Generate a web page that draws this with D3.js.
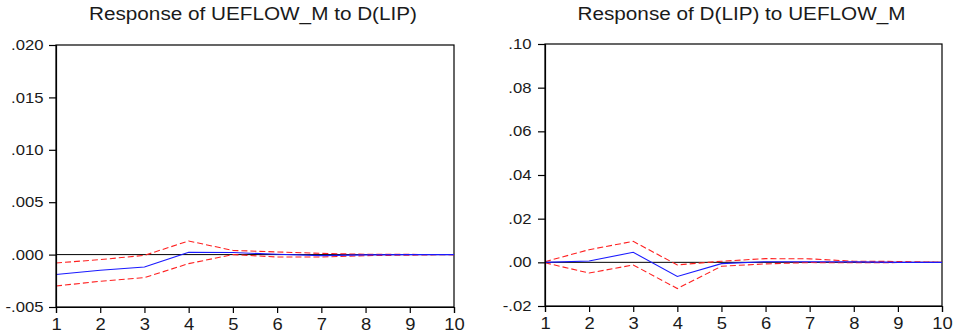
<!DOCTYPE html>
<html>
<head>
<meta charset="utf-8">
<script src="https://cdn.jsdelivr.net/npm/d3@7"></script>
<style>
  html, body { margin: 0; padding: 0; background: #fff; }
  svg { display: block; }
  text { font-family: "Liberation Sans", Arial, sans-serif; fill: #1a1a1a; }
</style>
</head>
<body>
<svg id="chart" width="957" height="336"></svg>
<script>
// Impulse response periods
const periods = [1, 2, 3, 4, 5, 6, 7, 8, 9, 10];
const xTickLabels = ["1", "2", "3", "4", "5", "6", "7", "8", "9", "10"];

// Response of UEFLOW_M to D(LIP): point estimate and +/- 2 S.E. bands
const ueflowResp  = [-0.0019, -0.0015, -0.00118, 0.00022, 0.0002, 0.00003, -0.0001, -0.00003, 0.0, 0.0];
const ueflowUpper = [-0.0008, -0.00048, -0.00007, 0.0013, 0.0004, 0.00025, 0.00012, 0.00003, 0.00002, 0.0];
const ueflowLower = [-0.003, -0.00254, -0.0022, -0.00086, 0.0, -0.00023, -0.00023, -0.0001, -0.00005, 0.0];
const ueflowTicks = [-0.005, 0.0, 0.005, 0.010, 0.015, 0.020];
const ueflowTickLabels = ["-.005", ".000", ".005", ".010", ".015", ".020"];

// Response of D(LIP) to UEFLOW_M
const lipResp  = [0.0, 0.0006, 0.0046, -0.0065, -0.0006, 0.0003, 0.0003, 0.0002, 0.0, 0.0];
const lipUpper = [0.0003, 0.0058, 0.0096, -0.0012, 0.0005, 0.0017, 0.0016, 0.0005, 0.0004, 0.0];
const lipLower = [-0.0002, -0.0049, -0.0012, -0.012, -0.0018, -0.0007, -0.0001, -0.0002, -0.0001, 0.0];
const lipTicks = [-0.02, 0.0, 0.02, 0.04, 0.06, 0.08, 0.10];
const lipTickLabels = ["-.02", ".00", ".02", ".04", ".06", ".08", ".10"];

const svg = d3.select("#chart");
const XS = 1.15; // horizontal text stretch

function drawPanel(p) {
  const g = svg.append("g");
  const x = d3.scaleLinear().domain([1, 10]).range([p.left, p.right]);
  const y = d3.scaleLinear().domain(p.domain).range([p.bottom, p.top]);

  // Title
  g.append("text")
    .attr("x", (p.left + p.right) / 2 - 2)
    .attr("y", 20)
    .attr("text-anchor", "middle")
    .attr("font-size", 17.5)
    .attr("textLength", 328)
    .attr("lengthAdjust", "spacingAndGlyphs")
    .text(p.title);

  // Frame (top and right edges)
  g.append("rect")
    .attr("x", p.left).attr("y", p.top)
    .attr("width", p.right - p.left).attr("height", p.bottom - p.top)
    .attr("fill", "none").attr("stroke", "#000").attr("stroke-width", 1.2);

  // Zero line
  g.append("line")
    .attr("x1", p.left).attr("x2", p.right)
    .attr("y1", y(0)).attr("y2", y(0))
    .attr("stroke", "#000").attr("stroke-width", 1);

  const line = d3.line().x((d, i) => x(periods[i])).y(d => y(d));

  g.append("path").datum(p.upper).attr("d", line)
    .attr("fill", "none").attr("stroke", "#ff2020").attr("stroke-width", 1.1)
    .attr("stroke-dasharray", "6,3");
  g.append("path").datum(p.lower).attr("d", line)
    .attr("fill", "none").attr("stroke", "#ff2020").attr("stroke-width", 1.1)
    .attr("stroke-dasharray", "6,3");
  g.append("path").datum(p.resp).attr("d", line)
    .attr("fill", "none").attr("stroke", "#1a1aff").attr("stroke-width", 1.1);

  // Y axis
  const yAxis = d3.axisLeft(y)
    .tickValues(p.ticks)
    .tickFormat((d, i) => p.tickLabels[i])
    .tickSize(7).tickPadding(6);
  const ya = g.append("g").attr("transform", `translate(${p.left},0)`).call(yAxis);
  ya.select(".domain").attr("stroke", "#000").attr("stroke-width", 1.2);
  ya.selectAll(".tick line").attr("stroke", "#000").attr("stroke-width", 1.2);
  ya.selectAll(".tick text")
    .attr("font-size", 14.5)
    .attr("font-family", "Liberation Sans, Arial, sans-serif")
    .attr("fill", "#1a1a1a")
    .attr("x", -p.labelGap / XS)
    .attr("transform", `scale(${XS},1)`);

  // X axis
  const xAxis = d3.axisBottom(x)
    .tickValues(periods)
    .tickFormat((d, i) => xTickLabels[i])
    .tickSize(6).tickPadding(6);
  const xa = g.append("g").attr("transform", `translate(0,${p.bottom})`).call(xAxis);
  xa.select(".domain").attr("stroke", "#000").attr("stroke-width", 1.2);
  xa.selectAll(".tick line").attr("stroke", "#000").attr("stroke-width", 1.2);
  xa.selectAll(".tick text")
    .attr("font-size", 16)
    .attr("font-family", "Liberation Sans, Arial, sans-serif")
    .attr("fill", "#1a1a1a")
    .attr("dy", null)
    .attr("y", 23)
    .attr("transform", `scale(${XS},1)`);
}

drawPanel({
  title: "Response of UEFLOW_M to D(LIP)",
  left: 56, right: 454, top: 45, bottom: 307,
  domain: [-0.005, 0.020],
  ticks: ueflowTicks, tickLabels: ueflowTickLabels,
  resp: ueflowResp, upper: ueflowUpper, lower: ueflowLower,
  labelGap: 12.5
});

drawPanel({
  title: "Response of D(LIP) to UEFLOW_M",
  left: 545, right: 942, top: 44, bottom: 306,
  domain: [-0.02, 0.10],
  ticks: lipTicks, tickLabels: lipTickLabels,
  resp: lipResp, upper: lipUpper, lower: lipLower,
  labelGap: 13.5
});
</script>
</body>
</html>
